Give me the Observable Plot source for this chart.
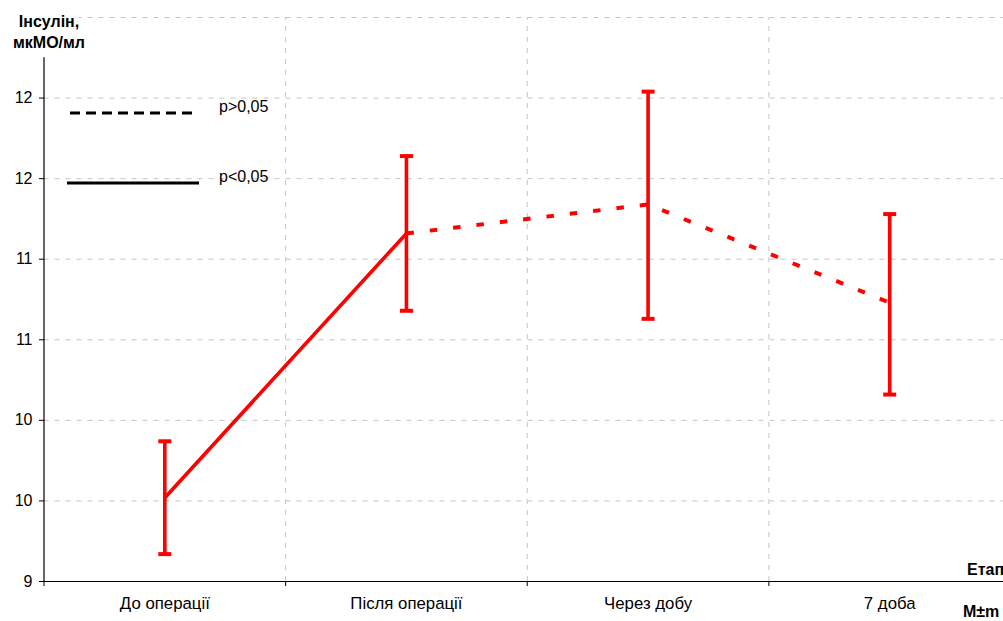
<!DOCTYPE html>
<html><head><meta charset="utf-8">
<script src="https://cdn.jsdelivr.net/npm/d3@7"></script>
<script src="https://cdn.jsdelivr.net/npm/@observablehq/plot@0.6"></script>
<style>
body{margin:0;background:#fff;}
#chart svg{overflow:hidden;display:block}
</style>
</head><body><div id="chart"></div>
<script>
// ---- data ----
const stages = ["До операції", "Після операції", "Через добу", "7 доба"];
const means  = [9.52, 11.16, 11.34, 10.73];
const lows   = [9.17, 10.68, 10.63, 10.16];
const highs  = [9.87, 11.64, 12.04, 11.28];
const segmentSignificance = ["p<0,05", "p>0,05", "p>0,05"]; // between consecutive stages
const yTicks = [9, 9.5, 10, 10.5, 11, 11.5, 12];
const yTickLabels = ["9", "10", "10", "11", "11", "12", "12"];
const yDomain = [9, 12.5];
const yAxisTop = 12.25;
const legendLabels = ["p>0,05", "p<0,05"];
const yTitle = ["Інсулін,", "мкМО/мл"];
const xTitle = "Етап";
const statLabel = "M±m";

// ---- derived ----
const data = stages.map((s, i) => ({stage: s, pos: i + 0.5, mean: means[i], low: lows[i], high: highs[i]}));
const solidPts = data.filter((d, i) => segmentSignificance[i - 1] === "p<0,05" || segmentSignificance[i] === "p<0,05");
const dashedPts = data.filter((d, i) => segmentSignificance[i - 1] === "p>0,05" || segmentSignificance[i] === "p>0,05");
const boundaries = d3.range(stages.length + 1);
const gridY = [...yTicks, yDomain[1]];

const cap = {draw(ctx) { ctx.moveTo(-6.5, 0); ctx.lineTo(6.5, 0); }};
const red = "#ff0000";
const grid = {stroke: "#c4c4c4", strokeDasharray: "5,6", strokeWidth: 1};

const chart = Plot.plot({
  width: 1003, height: 621,
  marginLeft: 44, marginRight: 0, marginTop: 17, marginBottom: 40,
  x: {type: "linear", domain: [0, stages.length], range: [43.5, 1010]},
  y: {domain: yDomain, range: [581, 17]},
  style: {fontFamily: "'Liberation Sans', Arial, sans-serif", fontSize: "16px", color: "#000", background: "#fff"},
  marks: [
    Plot.ruleY(gridY, {x1: 0, x2: stages.length, ...grid}),
    Plot.ruleX(boundaries.slice(1, -1), {y1: yDomain[0], y2: yDomain[1], ...grid}),
    Plot.ruleY([yDomain[0]], {x1: 0, x2: stages.length, stroke: "#000", strokeWidth: 1.2}),
    Plot.ruleX([0], {y1: yDomain[0], y2: yAxisTop, stroke: "#000", strokeWidth: 1.2}),
    Plot.axisY(yTicks, {anchor: "left", tickSize: 5, tickPadding: 7, label: null, fontSize: 16,
      tickFormat: d => yTickLabels[yTicks.indexOf(d)]}),
    Plot.axisX(boundaries, {anchor: "bottom", tickSize: 5, tickFormat: () => "", label: null}),
    Plot.text(data, {x: "pos", text: "stage", frameAnchor: "bottom", dy: 27, fontSize: 16.8}),
    Plot.line(solidPts, {x: "pos", y: "mean", stroke: red, strokeWidth: 3.6}),
    Plot.line(dashedPts, {x: "pos", y: "mean", stroke: red, strokeWidth: 4, strokeDasharray: "7.5,16", strokeLinecap: "butt"}),
    Plot.ruleX(data, {x: "pos", y1: "low", y2: "high", stroke: red, strokeWidth: 3.6}),
    Plot.dot(data, {x: "pos", y: "low", symbol: cap, stroke: red, strokeWidth: 4, fill: "none", r: 2}),
    Plot.dot(data, {x: "pos", y: "high", symbol: cap, stroke: red, strokeWidth: 4, fill: "none", r: 2})
  ]
});
document.getElementById("chart").appendChild(chart);

// ---- annotations: legend & titles ----
const svg = d3.select(chart);
const font = "'Liberation Sans', Arial, sans-serif";
const lg = svg.append("g").attr("font-family", font).attr("font-size", 16).attr("text-anchor", "start");
lg.append("line").attr("x1", 70).attr("x2", 192).attr("y1", 113).attr("y2", 113)
  .attr("stroke", "#000").attr("stroke-width", 3).attr("stroke-dasharray", "10,6");
lg.append("text").attr("x", 219).attr("y", 112).text(legendLabels[0]);
lg.append("line").attr("x1", 67).attr("x2", 199).attr("y1", 183).attr("y2", 183)
  .attr("stroke", "#000").attr("stroke-width", 3);
lg.append("text").attr("x", 219).attr("y", 182).text(legendLabels[1]);

const tg = svg.append("g").attr("font-family", font).attr("font-size", 16).attr("font-weight", "bold")
  .attr("text-anchor", "start");
tg.selectAll("text.yt").data(yTitle).join("text").attr("class", "yt")
  .attr("x", 49).attr("y", (d, i) => 27 + i * 21).attr("text-anchor", "middle")
  .attr("stroke", "#fff").attr("stroke-width", 10).attr("paint-order", "stroke").text(d => d);
tg.append("text").attr("x", 967).attr("y", 575).text(xTitle);
tg.append("text").attr("x", 963).attr("y", 617).text(statLabel);
</script>
</body></html>
